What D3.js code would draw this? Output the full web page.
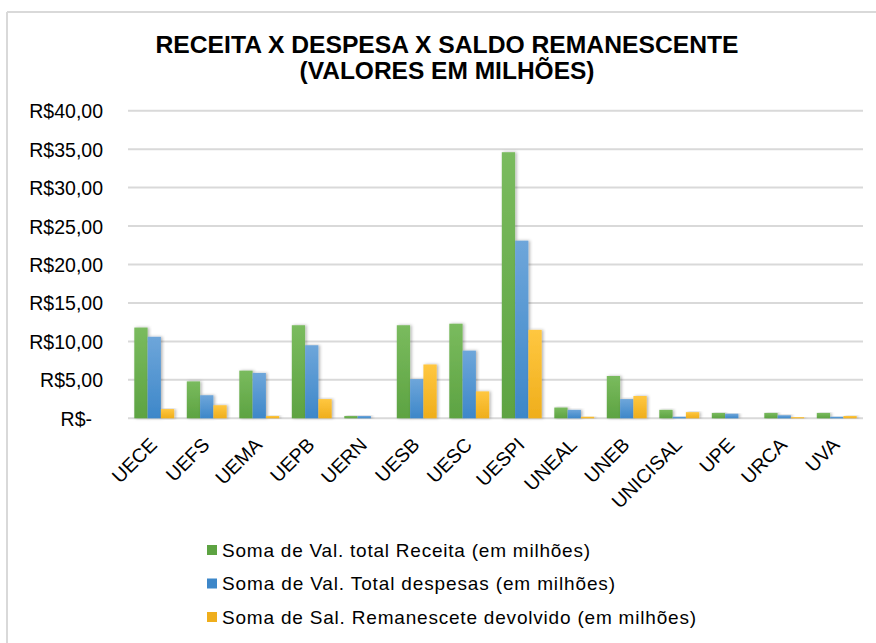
<!doctype html>
<html lang="pt">
<head>
  <meta charset="UTF-8" />
  <script src="https://cdn.jsdelivr.net/npm/d3@7"></script>
  <style>
    body { margin: 0; background: #fff; }
    text { font-family: "Liberation Sans", Arial, sans-serif; fill: #000; }
    .grid line { stroke: #d9d9d9; stroke-width: 2; }
    .title { font-weight: bold; font-size: 23px; }
  </style>
  <title>Receita x Despesa x Saldo</title>
</head>
<body>
  <script>
    var categories = ["UECE", "UEFS", "UEMA", "UEPB", "UERN", "UESB", "UESC", "UESPI",
      "UNEAL", "UNEB", "UNICISAL", "UPE", "URCA", "UVA"];
    var receita = [11.8, 4.8, 6.2, 12.1, 0.3, 12.1, 12.3, 34.6, 1.4, 5.5, 1.1, 0.7, 0.7, 0.7];
    var despesas = [10.6, 3.0, 5.9, 9.5, 0.3, 5.1, 8.8, 23.1, 1.1, 2.5, 0.2, 0.6, 0.4, 0.2];
    var saldo = [1.2, 1.7, 0.3, 2.5, 0, 7.0, 3.5, 11.5, 0.2, 2.9, 0.8, 0, 0.15, 0.3];
    var seriesNames = ["Soma de Val. total Receita (em milhões)",
      "Soma de Val. Total despesas (em milhões)",
      "Soma de Sal. Remanescete devolvido (em milhões)"];
    var yTicks = [0, 5, 10, 15, 20, 25, 30, 35, 40];

    var colors = [["#7abb5e", "#5da342"], ["#6ea6da", "#3d87c9"], ["#ffc740", "#efae1c"]];
    var allSeries = [receita, despesas, saldo];
    var legendWidths = [368, 393, 474];

    var W = 876, H = 643;
    var svg = d3.select("body").append("svg").attr("width", W).attr("height", H);

    // frame
    svg.append("line").attr("x1", 7).attr("x2", W).attr("y1", 12).attr("y2", 12)
      .attr("stroke", "#d9d9d9").attr("stroke-width", 2);
    svg.append("line").attr("x1", 7).attr("x2", 7).attr("y1", 12).attr("y2", H)
      .attr("stroke", "#d9d9d9").attr("stroke-width", 2);

    var defs = svg.append("defs");
    colors.forEach(function (c, i) {
      var g = defs.append("linearGradient").attr("id", "g" + i)
        .attr("x1", 0).attr("x2", 0).attr("y1", 0).attr("y2", 1);
      g.append("stop").attr("offset", "0%").attr("stop-color", c[0]);
      g.append("stop").attr("offset", "100%").attr("stop-color", c[1]);
    });
    var f = defs.append("filter").attr("id", "sh").attr("x", "-30%").attr("width", "160%");
    f.append("feDropShadow").attr("dx", 1.5).attr("dy", 0).attr("stdDeviation", 1.5)
      .attr("flood-color", "#000").attr("flood-opacity", 0.3);

    // title
    svg.append("text").attr("class", "title").attr("x", 447).attr("y", 53)
      .attr("text-anchor", "middle")
      .attr("textLength", 583).attr("lengthAdjust", "spacingAndGlyphs")
      .text("RECEITA X DESPESA X SALDO REMANESCENTE");
    svg.append("text").attr("class", "title").attr("x", 447).attr("y", 79)
      .attr("text-anchor", "middle")
      .attr("textLength", 295).attr("lengthAdjust", "spacingAndGlyphs")
      .text("(VALORES EM MILHÕES)");

    var x0 = d3.scaleBand().domain(categories).range([128, 863]).paddingInner(0.24).paddingOuter(0.12);
    var x1 = d3.scaleBand().domain([0, 1, 2]).range([0, x0.bandwidth()]);
    var y = d3.scaleLinear().domain([0, 40]).range([418.3, 110.7]);

    // grid
    svg.append("g").attr("class", "grid").selectAll("line").data(yTicks).enter().append("line")
      .attr("x1", 128).attr("x2", 863)
      .attr("y1", function (d) { return y(d); }).attr("y2", function (d) { return y(d); });

    // y axis
    var yAxis = d3.axisLeft(y).tickValues(yTicks).tickSize(0).tickPadding(0)
      .tickFormat(function (d) { return d === 0 ? "R$-" : "R$" + d3.format(".2f")(d).replace(".", ","); });
    var ya = svg.append("g").attr("transform", "translate(103,0)").call(yAxis);
    ya.select(".domain").remove();
    ya.selectAll("text").attr("font-size", 19.5).attr("font-family", "Liberation Sans, Arial, sans-serif")
      .attr("fill", "#000").attr("dy", "0.36em")
      .attr("dx", function (d) { return d === 0 ? -11 : 0; });

    // bars
    var groups = svg.append("g").selectAll("g").data(categories).enter().append("g")
      .attr("transform", function (d) { return "translate(" + x0(d) + ",0)"; });
    groups.selectAll("rect").data(function (d, i) {
      return allSeries.map(function (s, k) { return { k: k, v: s[i] }; });
    }).enter().append("rect")
      .attr("x", function (d) { return x1(d.k); })
      .attr("width", x1.bandwidth())
      .attr("y", function (d) { return y(d.v); })
      .attr("height", function (d) { return y(0) - y(d.v); })
      .attr("fill", function (d) { return "url(#g" + d.k + ")"; })
      .attr("filter", "url(#sh)");

    // x labels
    svg.append("g").selectAll("text").data(categories).enter().append("text")
      .attr("font-size", 19.5)
      .attr("text-anchor", "end")
      .attr("transform", function (d) {
        return "translate(" + (x0(d) + x0.bandwidth() / 2 + 4) + ",446) rotate(-45)";
      })
      .text(function (d) { return d; });

    // legend
    var leg = svg.append("g").selectAll("g").data(seriesNames).enter().append("g")
      .attr("transform", function (d, i) { return "translate(207," + (550 + i * 33.5) + ")"; });
    leg.append("rect").attr("x", 0).attr("y", -5).attr("width", 10).attr("height", 10)
      .attr("fill", function (d, i) { return colors[i][1]; });
    leg.append("text").attr("x", 15).attr("dy", "0.36em").attr("font-size", 19)
      .attr("textLength", function (d, i) { return legendWidths[i]; })
      .attr("lengthAdjust", "spacing")
      .text(function (d) { return d; });
  </script>
</body>
</html>
